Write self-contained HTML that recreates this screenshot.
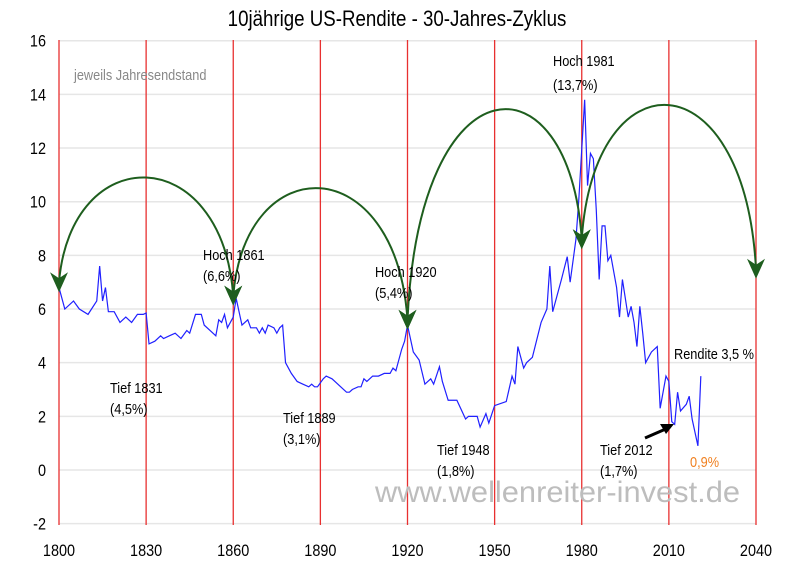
<!DOCTYPE html>
<html><head><meta charset="utf-8"><style>
body{margin:0;background:#fff;}
svg text{font-family:"Liberation Sans",sans-serif;}
</style></head><body>
<svg id="chart" width="795" height="583" viewBox="0 0 795 583" xmlns="http://www.w3.org/2000/svg">
<text class="n" x="397" y="26" text-anchor="middle" font-size="22">10jährige US-Rendite - 30-Jahres-Zyklus</text>
<g id="grid"></g>
<g id="ticks"></g>
<text x="375" y="502" font-size="30" fill="#bdbdbd" textLength="365" lengthAdjust="spacingAndGlyphs">www.wellenreiter-invest.de</text>
<g id="series"></g>
<g id="arcs"></g>
<g id="labels" font-size="15">
<text class="n" x="74" y="80" fill="#888" font-size="15">jeweils Jahresendstand</text>
<text class="n" x="110" y="393">Tief 1831</text>
<text class="n" x="110" y="414">(4,5%)</text>
<text class="n" x="203" y="260">Hoch 1861</text>
<text class="n" x="203" y="281">(6,6%)</text>
<text class="n" x="283" y="423">Tief 1889</text>
<text class="n" x="283" y="444">(3,1%)</text>
<text class="n" x="375" y="277">Hoch 1920</text>
<text class="n" x="375" y="298">(5,4%)</text>
<text class="n" x="437" y="455">Tief 1948</text>
<text class="n" x="437" y="476">(1,8%)</text>
<text class="n" x="553" y="66">Hoch 1981</text>
<text class="n" x="553" y="90">(13,7%)</text>
<text class="n" x="600" y="455">Tief 2012</text>
<text class="n" x="600" y="476">(1,7%)</text>
<text class="n" x="674" y="359">Rendite 3,5 %</text>
<text class="n" x="690" y="467" fill="#f08020">0,9%</text>
</g>
<g>
<line x1="645" y1="438" x2="668" y2="428" stroke="#000" stroke-width="3"/>
<polygon points="674,424 660,424 666,434" fill="#000"/>
</g>
</svg>
<script>
const years=[1800,1802,1805,1807,1810,1813,1814,1815,1816,1817,1819,1821,1823,1825,1827,1829,1830,1831,1833,1835,1836,1838,1840,1842,1844,1845,1847,1849,1850,1852,1854,1855,1856,1857,1858,1860,1861,1862,1863,1865,1866,1868,1869,1870,1871,1872,1874,1875,1876,1877,1878,1880,1882,1884,1886,1887,1888,1889,1891,1892,1894,1895,1897,1899,1900,1901,1903,1904,1905,1906,1908,1910,1912,1914,1915,1916,1918,1919,1920,1922,1924,1926,1928,1929,1931,1932,1934,1937,1940,1941,1944,1945,1947,1948,1950,1954,1956,1957,1958,1960,1961,1963,1966,1968,1969,1970,1973,1975,1976,1978,1979,1981,1982,1983,1984,1985,1986,1987,1988,1989,1990,1992,1993,1994,1996,1997,1998,1999,2000,2001,2002,2003,2004,2006,2007,2009,2010,2011,2012,2013,2014,2016,2017,2018,2020,2021];
const yields=[6.8,6.0,6.3,6.0,5.8,6.3,7.6,6.3,6.8,5.9,5.9,5.5,5.7,5.5,5.8,5.8,5.85,4.7,4.8,5.0,4.9,5.0,5.1,4.9,5.2,5.1,5.8,5.8,5.4,5.2,5.0,5.6,5.5,5.8,5.3,5.7,6.4,5.9,5.4,5.6,5.3,5.3,5.1,5.3,5.1,5.4,5.3,5.1,5.3,5.4,4.0,3.6,3.3,3.2,3.1,3.2,3.1,3.1,3.4,3.5,3.4,3.3,3.1,2.9,2.9,3.0,3.1,3.1,3.4,3.3,3.5,3.5,3.6,3.6,3.8,3.7,4.5,4.8,5.4,4.4,4.1,3.2,3.4,3.2,3.85,3.3,2.6,2.6,1.9,2.0,2.0,1.6,2.1,1.75,2.4,2.55,3.5,3.2,4.6,3.8,4.0,4.2,5.5,6.0,7.6,5.9,7.1,7.95,7.0,8.6,10.1,13.8,10.6,11.8,11.6,9.7,7.1,9.1,9.1,7.8,8.0,6.8,5.7,7.1,5.7,6.1,5.5,4.6,6.1,5.1,4.0,4.2,4.4,4.6,2.3,3.5,3.3,1.8,1.7,2.9,2.2,2.45,2.75,1.9,0.9,3.5];
const xTicks=[1800,1830,1860,1890,1920,1950,1980,2010,2040];
const yTicks=[-2,0,2,4,6,8,10,12,14,16];
const arcStarts=[1800,1860,1920,1980];
const arcStartVals=[7.0,6.5,5.6,8.6];
const arcEndVals=[6.5,5.6,8.6,7.5];
const arcPeakVals=[10.9,10.5,13.4,13.6];

const NS="http://www.w3.org/2000/svg";
const X=y=>59+(y-1800)*(697/240);
const Y=v=>470-v*26.83;
function mk(tag,attrs,parent){const e=document.createElementNS(NS,tag);for(const k in attrs)e.setAttribute(k,attrs[k]);parent.appendChild(e);return e;}
const grid=document.getElementById('grid'),ticks=document.getElementById('ticks');
yTicks.forEach(v=>{
  const l=mk('line',{x1:59,x2:756,y1:Y(v),y2:Y(v),stroke:'#e6e6e6','stroke-width':1.5},grid);
  
  
  const t=mk('text',{x:46,y:Y(v)+6,'text-anchor':'end','font-size':17,class:'n'},ticks);
  t.textContent=v;
  
  
});
xTicks.forEach(yr=>{
  const l=mk('line',{x1:X(yr),x2:X(yr),y1:40,y2:525,stroke:'#e83030','stroke-width':1.3},grid);
  
  
  const t=mk('text',{x:X(yr),y:556,'text-anchor':'middle','font-size':17,class:'n'},ticks);
  t.textContent=yr;
  
  
});
const pl=mk('polyline',{points:years.map((y,i)=>X(y)+','+Y(yields[i])).join(' '),fill:'none',stroke:'#2020ff','stroke-width':1.2},document.getElementById('series'));


const arcs=document.getElementById('arcs');
arcStarts.forEach((s,i)=>{
  const x0=X(s),y0=Y(arcStartVals[i]),x1=X(s+60),y1=Y(arcEndVals[i]),yp=Y(arcPeakVals[i]);
  const cy=(8*yp-y0-y1)/6;
  const p=mk('path',{d:`M${x0},${y0} C${x0+12},${cy} ${x1-12},${cy} ${x1},${y1}`,fill:'none',stroke:'#1e5e1e','stroke-width':2},arcs);
  
  
  [[x0,y0],[x1,y1]].forEach(([ax,ay])=>{
    const a=mk('polygon',{points:`${ax},${ay+10} ${ax-9},${ay-10} ${ax},${ay-4} ${ax+9},${ay-10}`,fill:'#1e5e1e'},arcs);
    
    
  });
});
document.querySelectorAll('text.n').forEach(t=>{
  const x=t.getAttribute('x');
  t.setAttribute('transform',`translate(${x},0) scale(0.85,1) translate(${-x},0)`);
});
</script>
</body></html>
